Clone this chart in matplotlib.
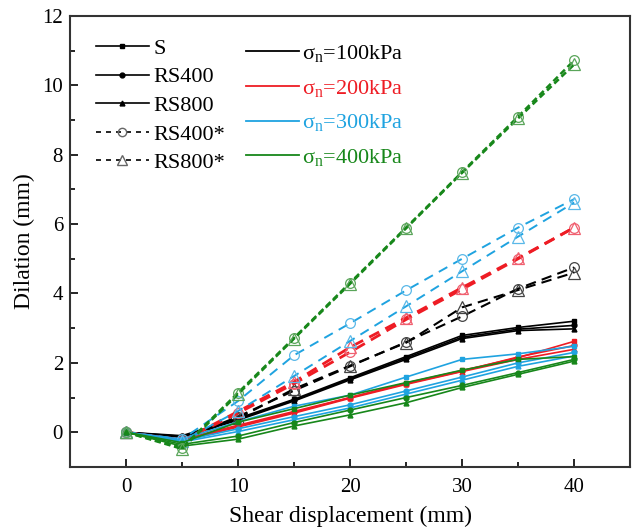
import matplotlib
matplotlib.use('Agg')
import matplotlib.pyplot as plt
from matplotlib.lines import Line2D
from matplotlib.ticker import MultipleLocator

plt.rcParams['font.family'] = ['Liberation Serif', 'DejaVu Serif']
plt.rcParams['mathtext.fontset'] = 'stix'

# shear displacement (mm)
x = [0, 5, 10, 15, 20, 25, 30, 35, 40]

# dilation (mm), one list per normal stress and sample
s_100 = [0, -0.1, 0.4, 0.95, 1.57, 2.18, 2.79, 3.02, 3.2]
rs400_100 = [0, -0.12, 0.38, 0.92, 1.54, 2.14, 2.74, 2.97, 3.08]
rs800_100 = [0, -0.14, 0.35, 0.9, 1.51, 2.1, 2.7, 2.93, 2.98]
rs400s_100 = [0, -0.2, 0.45, 1.2, 1.9, 2.6, 3.34, 4.14, 4.75]
rs800s_100 = [0, -0.2, 0.4, 1.25, 1.92, 2.58, 3.6, 4.1, 4.6]

s_200 = [0, -0.2, 0.2, 0.6, 1.0, 1.42, 1.78, 2.15, 2.62]
rs400_200 = [0, -0.22, 0.18, 0.57, 1.0, 1.4, 1.76, 2.17, 2.5]
rs800_200 = [0, -0.25, 0.15, 0.55, 0.98, 1.38, 1.75, 2.1, 2.39]
rs400s_200 = [0, -0.25, 0.55, 1.4, 2.31, 3.25, 4.12, 5.0, 5.9]
rs800s_200 = [0, -0.25, 0.6, 1.45, 2.45, 3.3, 4.17, 5.02, 5.9]

s_300 = [0, -0.2, 0.3, 0.75, 1.07, 1.59, 2.1, 2.26, 2.48]
rs400_300 = [0, -0.25, 0.1, 0.45, 0.79, 1.19, 1.59, 2.0, 2.3]
rs800_300 = [0, -0.28, 0.02, 0.36, 0.7, 1.1, 1.5, 1.9, 2.2]
rs400s_300 = [0, -0.2, 0.9, 2.22, 3.14, 4.09, 5.0, 5.9, 6.72]
rs800s_300 = [0, -0.25, 0.61, 1.62, 2.63, 3.63, 4.64, 5.64, 6.62]

s_400 = [0, -0.3, 0.29, 0.68, 1.07, 1.43, 1.79, 2.1, 2.18]
rs400_400 = [0, -0.35, -0.11, 0.28, 0.64, 1.0, 1.35, 1.72, 2.1]
rs800_400 = [0, -0.4, -0.2, 0.18, 0.5, 0.85, 1.29, 1.67, 2.05]
rs400s_400 = [0, -0.45, 1.14, 2.72, 4.31, 5.9, 7.5, 9.1, 10.72]
rs800s_400 = [0, -0.48, 1.1, 2.7, 4.28, 5.88, 7.48, 9.05, 10.6]

stress_labels = ['100kPa', '200kPa', '300kPa', '400kPa']
colors = ['black', '#ee1c24', '#1fa3e0', '#17871a']
light = ['#444444', '#f06070', '#5ab8e8', '#5aa55a']
dashes = [(5, 3), (4, 2.5), (5, 3.5), (2.5, 1.5)]
dash_lw = [1.5, 2.0, 1.4, 1.8]

groups = [
    [s_100, rs400_100, rs800_100, rs400s_100, rs800s_100],
    [s_200, rs400_200, rs800_200, rs400s_200, rs800s_200],
    [s_300, rs400_300, rs800_300, rs400s_300, rs800s_300],
    [s_400, rs400_400, rs800_400, rs400s_400, rs800s_400],
]

fig = plt.figure(figsize=(6.33, 5.3), dpi=100)
ax = fig.add_axes([0.1106, 0.119, 0.885, 0.851])

for g, c, lc, d, dl in zip(groups, colors, light, dashes, dash_lw):
    s, r4, r8, r4s, r8s = g
    ax.plot(x, s, '-', color=c, lw=1.2, marker='s', ms=3.5)
    ax.plot(x, r4, '-', color=c, lw=1.2, marker='o', ms=3.5)
    ax.plot(x, r8, '-', color=c, lw=1.2, marker='^', ms=3.5)
    ax.plot(x, r4s, color=c, lw=dl, dashes=d, marker='o', ms=7,
            mfc='none', mec=lc, mew=0.9)
    ax.plot(x, r8s, color=c, lw=dl, dashes=d, marker='^', ms=8,
            mfc='none', mec=lc, mew=0.9)

ax.set_xlim(-5, 45)
ax.set_ylim(-1, 12)
ax.xaxis.set_major_locator(MultipleLocator(10))
ax.xaxis.set_minor_locator(MultipleLocator(5))
ax.yaxis.set_major_locator(MultipleLocator(2))
ax.yaxis.set_minor_locator(MultipleLocator(1))
ax.tick_params(which='both', direction='in', top=False, right=False,
               labelsize=15, width=1.2)
ax.tick_params(axis='x', which='both', pad=8)
ax.tick_params(axis='y', which='both', pad=5)
ax.tick_params(which='major', length=6)
ax.tick_params(which='minor', length=3.5)
for sp in ax.spines.values():
    sp.set_linewidth(1.5)
    sp.set_color('#333333')
ax.set_xlabel('Shear displacement (mm)', fontsize=17, labelpad=6)
ax.set_ylabel('Dilation (mm)', fontsize=17, labelpad=5)

# sample legend
h1 = [
    Line2D([], [], color='black', lw=1.2, marker='s', ms=3.5),
    Line2D([], [], color='black', lw=1.2, marker='o', ms=3.5),
    Line2D([], [], color='black', lw=1.2, marker='^', ms=3.5),
    Line2D([], [], color='black', lw=1.2, dashes=(3, 3), marker='o', ms=6,
           mfc='none', mec='#666666'),
    Line2D([], [], color='black', lw=1.2, dashes=(3, 3), marker='^', ms=7,
           mfc='none', mec='#666666'),
]
leg1 = ax.legend(h1, ['S', 'RS400', 'RS800', 'RS400*', 'RS800*'],
                 loc='upper left', bbox_to_anchor=(0.03, 0.97),
                 frameon=False, fontsize=16, handlelength=2.4,
                 handletextpad=0.18, labelspacing=0.36, borderaxespad=0)
ax.add_artist(leg1)

# normal stress legend
h2 = [Line2D([], [], color=c, lw=1.3) for c in colors]
labels2 = [r'$\mathregular{\sigma_n}$=' + t for t in stress_labels]
leg2 = ax.legend(h2, labels2, loc='upper left', bbox_to_anchor=(0.298, 0.96),
                 frameon=False, fontsize=16, handlelength=2.4,
                 handletextpad=0.12, labelspacing=0.62, borderaxespad=0)
for txt, c in zip(leg2.get_texts(), colors):
    txt.set_color(c)

fig.savefig('out.png', dpi=100)
